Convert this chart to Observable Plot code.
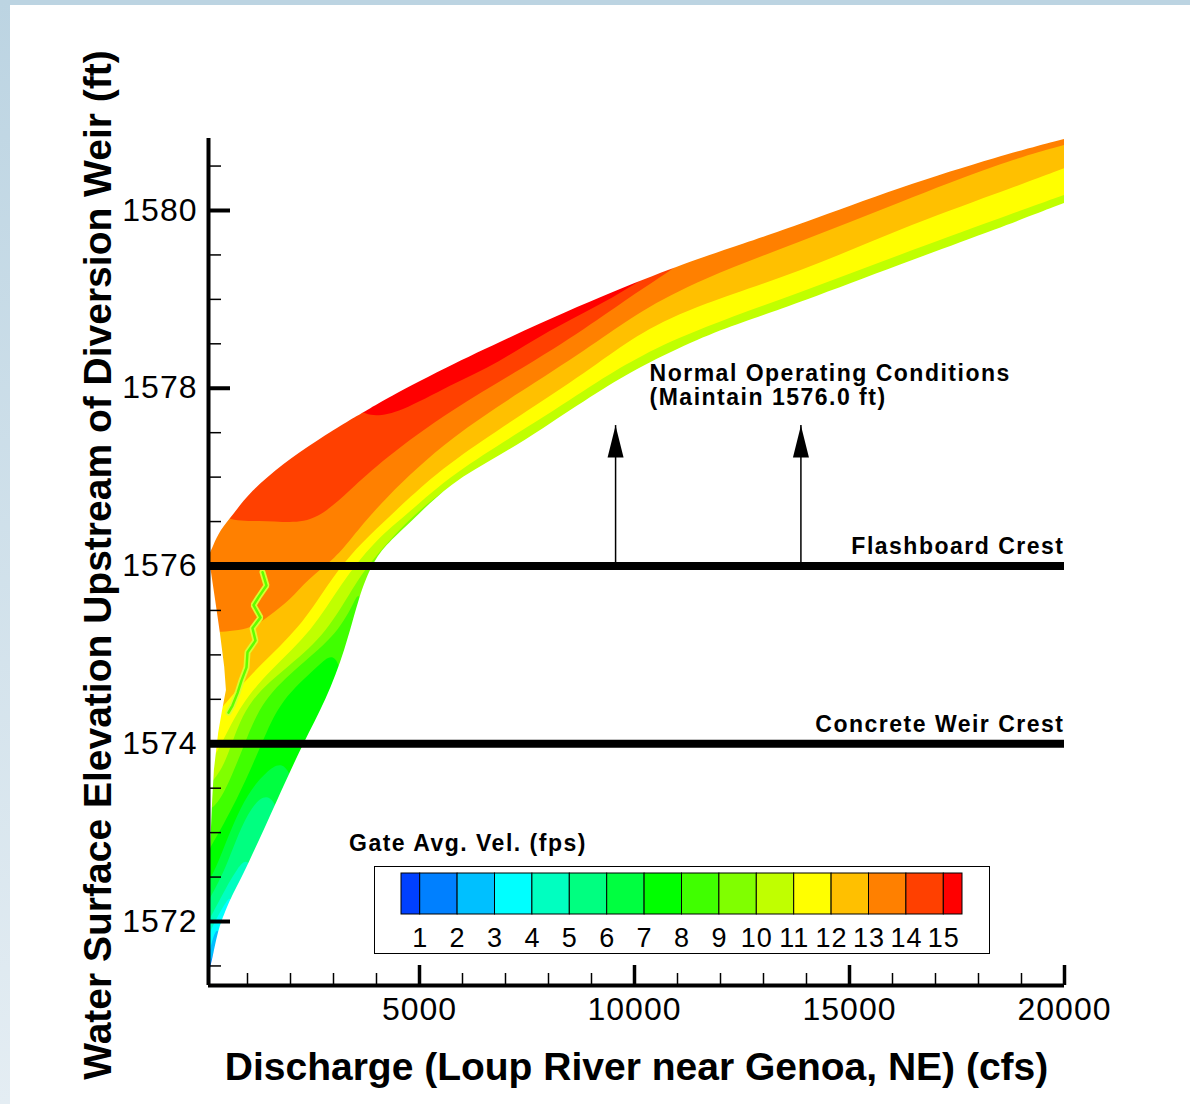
<!DOCTYPE html>
<html>
<head>
<meta charset="utf-8">
<script src="https://cdn.jsdelivr.net/npm/d3@7"></script>
<script src="https://cdn.jsdelivr.net/npm/@observablehq/plot@0.6"></script>
<style>
  html, body { margin: 0; padding: 0; background: #ffffff; }
  #page { position: relative; width: 1190px; height: 1104px; overflow: hidden; background: #ffffff; }
  #topbar { position: absolute; left: 0; top: 0; width: 1190px; height: 5px; background: #bcd4e2; }
  #leftbar { position: absolute; left: 0; top: 0; width: 10px; height: 1104px; background: linear-gradient(to bottom, #bcd4e2, #e4edf3); }
  #chart { position: absolute; left: 0; top: 0; }
  #legend { position: absolute; left: 373px; top: 865px; }
  #legendTitle { position: absolute; left: 349px; top: 832px; font: bold 23px "Liberation Sans", Arial, sans-serif; line-height: 23px; letter-spacing: 1.5px; white-space: nowrap; color: #000; }
</style>
</head>
<body>
<div id="page">
  <div id="topbar"></div>
  <div id="leftbar"></div>
  <div id="chart"></div>
  <div id="legendTitle"></div>
  <div id="legend"></div>
</div>
<script>
// ---------------- data ----------------
const xDomain = [93, 20000];
const yDomain = [1571.28, 1580.81];
const xMajor = [5000, 10000, 15000, 20000];
const xMinor = [1000, 2000, 3000, 4000, 6000, 7000, 8000, 9000, 11000, 12000, 13000, 14000, 16000, 17000, 18000, 19000];
const yMajor = [1572, 1574, 1576, 1578, 1580];
const yMinor = [1571.5, 1572.5, 1573, 1573.5, 1574.5, 1575, 1575.5, 1576.5, 1577, 1577.5, 1578.5, 1579, 1579.5, 1580.5];

const xTitle = "Discharge (Loup River near Genoa, NE) (cfs)";
const yTitle = "Water Surface Elevation Upstream of Diversion Weir (ft)";
const legendTitle = "Gate Avg. Vel. (fps)";

// colour of each velocity band, lowest first (band [v, v+1])
const bandColors = ["#0080ff", "#00c0ff", "#00ffff", "#00ffc0", "#00ff80", "#00ff40", "#00ff00",
  "#40ff00", "#80ff00", "#c0ff00", "#ffff00", "#ffc000", "#ff8000", "#ff4000", "#ff0000"];
const legendEdges = [0.5, 1, 2, 3, 4, 5, 6, 7, 8, 9, 10, 11, 12, 13, 14, 15, 15.5];
const legendColors = ["#0040ff", "#0080ff", "#00c0ff", "#00ffff", "#00ffc0", "#00ff80", "#00ff40", "#00ff00",
  "#40ff00", "#80ff00", "#c0ff00", "#ffff00", "#ffc000", "#ff8000", "#ff4000", "#ff0000"];
const legendTicks = [1, 2, 3, 4, 5, 6, 7, 8, 9, 10, 11, 12, 13, 14, 15];

const crestElev = [1576, 1574];
const crestLabels = ["Flashboard Crest", "Concrete Weir Crest"];
const arrowQ = [9560, 13870];
const arrowBase = 1576.0;
const arrowTip = 1577.58;
const noteQ = 10350;
const noteLines = ["Normal Operating Conditions", "(Maintain 1576.0 ft)"];
const noteElev = [1578.17, 1577.89];

// band outline: [discharge cfs, elevation ft]
const topEdge = [[116,1576.12],[209,1576.22],[372,1576.40],[674,1576.57],[1070,1576.83],[1840,1577.15],[2630,1577.41],[3400,1577.64],[3700,1577.72],[4090,1577.84],[5490,1578.20],[7810,1578.73],[10140,1579.21],[11530,1579.46],[12470,1579.61],[13860,1579.84],[16190,1580.26],[18510,1580.61],[20000,1580.80]];
const bottomEdge = [[140,1571.47],[210,1571.62],[280,1571.79],[370,1571.96],[490,1572.10],[600,1572.24],[1000,1572.61],[1700,1573.36],[2300,1574.00],[2840,1574.49],[3280,1575.05],[3580,1575.61],[3860,1575.98],[4210,1576.23],[4790,1576.48],[5720,1576.93],[6880,1577.24],[7810,1577.52],[9210,1577.97],[10140,1578.24],[11530,1578.56],[12470,1578.73],[13860,1578.96],[16190,1579.39],[18510,1579.80],[20000,1580.08]];
const leftEdge = [[116,1576.10],[140,1576.00],[260,1575.61],[370,1575.24],[470,1574.86],[510,1574.60],[420,1574.37],[330,1574.12],[230,1573.70],[190,1573.36],[140,1572.80],[116,1572.24],[116,1571.40]];
// thin low-velocity streak inside the high-velocity zone
const streak = [[1349,1575.93],[1442,1575.78],[1256,1575.65],[1140,1575.56],[1302,1575.42],[1116,1575.30],[1186,1575.16],[1000,1575.03],[977,1574.86],[860,1574.71],[767,1574.57],[651,1574.43],[558,1574.35]];

// velocity contour lines (fps level), [discharge, elevation]
const c01 = [[116,1571.28],[20000,1571.28]];
const c02 = [[116,1571.50],[210,1571.62],[280,1571.75],[300,1571.28],[20000,1571.28]];
const c03 = [[116,1571.62],[230,1571.87],[380,1571.95],[400,1571.28],[20000,1571.28]];
const c04 = [[116,1571.84],[256,1572.00],[535,1572.24],[700,1572.31],[720,1571.28],[20000,1571.28]];
const c05 = [[116,1572.01],[370,1572.24],[770,1572.61],[1190,1572.80],[1210,1571.28],[20000,1571.28]];
const c06 = [[116,1572.24],[535,1572.61],[1070,1573.36],[1880,1573.55],[1900,1571.28],[20000,1571.28]];
const c07 = [[116,1572.46],[300,1572.61],[840,1573.31],[1420,1573.70],[2230,1573.92],[2260,1571.28],[20000,1571.28]];
const c08 = [[116,1572.80],[770,1573.36],[1350,1574.00],[1770,1574.49],[2700,1574.88],[3370,1575.22],[3400,1571.28],[20000,1571.28]];
const c09 = [[116,1573.25],[420,1573.36],[950,1574.00],[1350,1574.49],[2230,1574.88],[3120,1575.24],[3510,1575.61],[3770,1575.86],[3800,1571.28],[20000,1571.28]];
const c10 = [[116,1573.53],[420,1573.70],[650,1574.00],[1020,1574.49],[2000,1574.88],[2860,1575.24],[3560,1575.84],[4090,1576.17],[5020,1576.65],[6190,1577.05],[6300,1577.02],[6310,1571.28],[20000,1571.28]];
const c11 = [[116,1573.76],[420,1574.00],[840,1574.43],[1530,1574.82],[2530,1575.27],[3160,1575.78],[3980,1576.29],[4790,1576.60],[5720,1577.02],[7810,1577.64],[9210,1578.09],[10140,1578.36],[11530,1578.67],[13860,1579.07],[16190,1579.50],[18510,1579.91],[20000,1580.17]];
const c12 = [[116,1574.29],[280,1574.32],[560,1574.49],[1300,1574.88],[2230,1575.30],[2860,1575.78],[3400,1576.12],[3980,1576.40],[4790,1576.77],[5720,1577.17],[7810,1577.83],[9210,1578.29],[10140,1578.62],[11530,1578.94],[13860,1579.30],[16190,1579.79],[18510,1580.20],[20000,1580.47]];
const c13 = [[116,1575.25],[1070,1575.27],[1530,1575.44],[2000,1575.61],[2400,1575.84],[3090,1576.10],[3400,1576.29],[4160,1576.74],[5720,1577.45],[7810,1578.09],[9210,1578.54],[10140,1578.86],[11530,1579.22],[13860,1579.64],[16190,1580.09],[18510,1580.53],[20000,1580.73]];
const c14 = [[116,1576.74],[490,1576.49],[1300,1576.51],[2000,1576.48],[2630,1576.51],[3400,1576.85],[4160,1577.19],[5720,1577.75],[7810,1578.33],[9210,1578.78],[10140,1579.10],[11070,1579.38],[11530,1579.61],[13860,1580.06],[16190,1580.47],[18510,1580.78],[20000,1580.81]];
const c15 = [[116,1578.09],[3510,1577.81],[3810,1577.66],[4560,1577.72],[5720,1578.03],[6880,1578.29],[7810,1578.59],[9210,1578.93],[10370,1579.27],[11530,1579.66],[13860,1580.11],[16190,1580.51],[18510,1580.79],[20000,1580.81]];

// ---------------- drawing ----------------
const FONT = '"Liberation Sans", Arial, Helvetica, sans-serif';
const W = 1190, H = 1104;
const mL = 208, mR = W - 1064, mT = 138, mB = H - 985;
const frameW = W - mL - mR, frameH = H - mT - mB;

const contours = [c01, c02, c03, c04, c05, c06, c07, c08, c09, c10, c11, c12, c13, c14, c15];
const bandMarks = contours.map((pts, i) =>
  Plot.areaY(pts, {x: d => d[0], y1: d => d[1], y2: () => yDomain[1], fill: bandColors[i], curve: "basis"}));

const headSymbol = {draw(ctx) { ctx.moveTo(0, 0); ctx.lineTo(-8, 32); ctx.lineTo(8, 32); ctx.closePath(); }};

const chart = Plot.plot({
  width: W, height: H,
  marginLeft: mL, marginRight: mR, marginTop: mT, marginBottom: mB,
  x: {domain: xDomain},
  y: {domain: yDomain},
  style: {background: "transparent", fontFamily: FONT, color: "black", overflow: "visible"},
  marks: [
    ...bandMarks,
    Plot.line(streak, {x: d => d[0], y: d => d[1], stroke: "#d8ff30", strokeWidth: 6, strokeLinejoin: "miter"}),
    Plot.line(streak, {x: d => d[0], y: d => d[1], stroke: "#60ff00", strokeWidth: 2.5}),
    // white outside the simulated band
    Plot.areaY(topEdge, {x: d => d[0], y1: d => d[1], y2: () => yDomain[1], fill: "white", curve: "basis"}),
    Plot.areaY(bottomEdge, {x: d => d[0], y1: () => yDomain[0], y2: d => d[1], fill: "white", curve: "basis"}),
    Plot.areaX(leftEdge, {y: d => d[1], x1: () => xDomain[0], x2: d => d[0], fill: "white"}),
    // crest lines
    Plot.ruleY(crestElev, {y: d => d, stroke: "black", strokeWidth: 8}),
    Plot.text(crestLabels, {x: () => xDomain[1], y: (d, i) => crestElev[i], dy: -19, text: d => d, textAnchor: "end", fontSize: 23, fontWeight: "bold"}),
    // arrows
    Plot.ruleX(arrowQ, {x: d => d, y1: () => arrowBase, y2: () => arrowTip, stroke: "black", strokeWidth: 1.5}),
    Plot.dot(arrowQ, {x: d => d, y: () => arrowTip, r: 4, symbol: headSymbol, fill: "black", stroke: "none"}),
    Plot.text(noteLines, {x: () => noteQ, y: (d, i) => noteElev[i], text: d => d, textAnchor: "start", fontSize: 23, fontWeight: "bold"}),
    // axes
    Plot.tickY(yMinor, {y: d => d, insetRight: frameW - 13, strokeWidth: 1.5}),
    Plot.tickY(yMajor, {y: d => d, insetRight: frameW - 22, strokeWidth: 4}),
    Plot.tickX(xMinor, {x: d => d, insetTop: frameH - 12, strokeWidth: 1.5}),
    Plot.tickX(xMajor, {x: d => d, insetTop: frameH - 20, strokeWidth: 3.5}),
    Plot.ruleX([xDomain[0]], {x: d => d, strokeWidth: 4}),
    Plot.ruleY([yDomain[0]], {y: d => d, strokeWidth: 4}),
    Plot.axisY(yMajor, {tickSize: 0, tickPadding: 11, fontSize: 32, tickFormat: d => String(d), label: null}),
    Plot.axisX(xMajor, {tickSize: 0, tickPadding: 12, fontSize: 32, tickFormat: d => String(d), label: null}),
    Plot.text([xTitle], {frameAnchor: "bottom", dy: 82, textAnchor: "middle", lineAnchor: "middle", text: d => d, fontSize: 39, fontWeight: "bold"}),
    Plot.text([yTitle], {frameAnchor: "left", dx: -110, dy: 3, rotate: -90, textAnchor: "middle", lineAnchor: "middle", text: d => d, fontSize: 39, fontWeight: "bold"})
  ]
});
document.getElementById("chart").appendChild(chart);

const spaced = new Set([...crestLabels, ...noteLines]);
d3.select(chart).selectAll("text").filter(function() { return spaced.has(this.textContent); }).attr("letter-spacing", "1.5px");
d3.select(chart).selectAll('g[aria-label="y-axis tick label"] text, g[aria-label="x-axis tick label"] text').attr("letter-spacing", "1px");

// legend
document.getElementById("legendTitle").textContent = legendTitle;
const legendCells = legendColors.map((c, i) => ({lo: legendEdges[i], hi: legendEdges[i + 1], color: c}));
const legend = Plot.plot({
  width: 617, height: 89,
  marginTop: 1, marginRight: 1, marginBottom: 1, marginLeft: 1,
  x: {domain: [0.5, 15.5], range: [28, 589], axis: null},
  y: {domain: [0, 1], range: [49, 8], axis: null},
  color: {type: "identity"},
  style: {background: "transparent", fontFamily: FONT, color: "black", overflow: "visible"},
  marks: [
    Plot.frame({stroke: "black", strokeWidth: 1}),
    Plot.rect(legendCells, {x1: "lo", x2: "hi", y1: () => 0, y2: () => 1, fill: "color", stroke: "black", strokeWidth: 1}),
    Plot.text(legendTicks, {x: d => d, y: () => 0, dy: 24, text: d => String(d), fontSize: 27})
  ]
});
document.getElementById("legend").appendChild(legend);
d3.select(legend).selectAll("text").attr("letter-spacing", "1px");
</script>
</body>
</html>
